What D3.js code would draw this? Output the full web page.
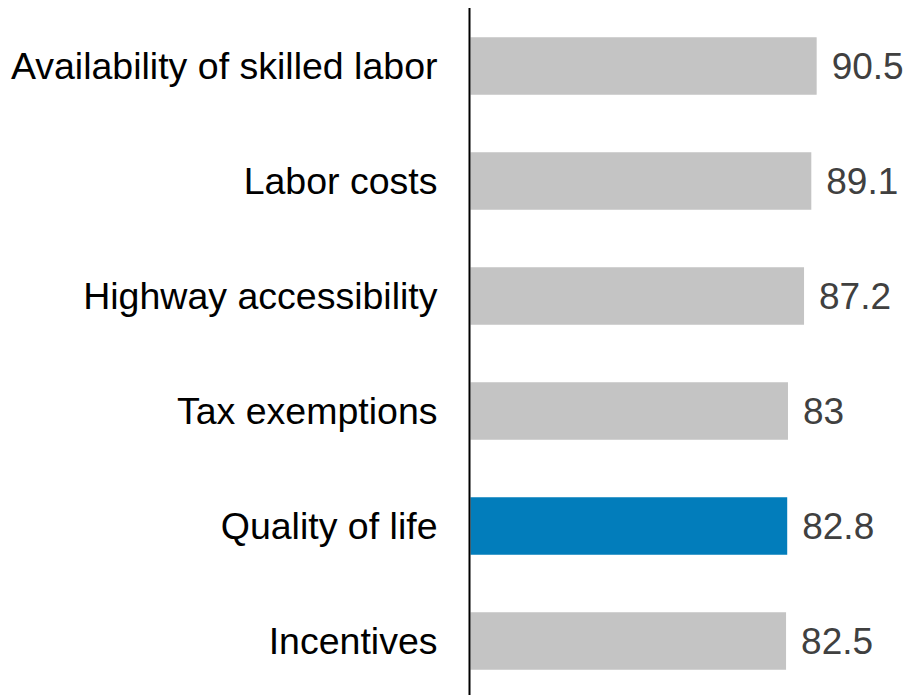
<!DOCTYPE html>
<html><head><meta charset="utf-8">
<script src="https://cdn.jsdelivr.net/npm/d3@7"></script>
<style>body{margin:0;background:#fff}svg{display:block}text{font-family:Arial,"Liberation Sans",sans-serif}</style>
</head><body><svg id="c" width="920" height="695"></svg>
<script>
const categories = ["Availability of skilled labor","Labor costs","Highway accessibility","Tax exemptions","Quality of life","Incentives"];
const values = [90.5, 89.1, 87.2, 83, 82.8, 82.5];
const highlight = ["Quality of life"];

const svg = d3.select("#c");
const x = d3.scaleLinear().domain([0, 100]).range([470.5, 853]);
const y = d3.scaleBand().domain(categories).range([8.5, 698.5]).paddingInner(0.5).paddingOuter(0.25);

const data = categories.map((c, i) => ({c, v: values[i]}));

svg.selectAll("rect.bar").data(data).enter().append("rect")
  .attr("class","bar")
  .attr("x", x(0))
  .attr("y", d => y(d.c))
  .attr("width", d => x(d.v) - x(0))
  .attr("height", y.bandwidth())
  .attr("fill", d => highlight.includes(d.c) ? "#027dbb" : "#c4c4c4");

svg.selectAll("text.val").data(data).enter().append("text")
  .attr("class","val")
  .attr("x", d => x(d.v) + 15)
  .attr("y", d => y(d.c) + y.bandwidth()/2)
  .attr("dy", "0.35em")
  .attr("font-size", 37)
  .attr("fill", "#404040")
  .text(d => d.v);

const yAxis = d3.axisLeft(y).tickSize(0).tickPadding(32);
const g = svg.append("g").attr("transform", `translate(${469.5},0)`).call(yAxis);
g.select(".domain").attr("stroke", "#000").attr("stroke-width", 2).attr("d", `M0,8V695`);
g.selectAll(".tick text").attr("font-size", 37.5).attr("fill", "#000").attr("font-family", "Arial, 'Liberation Sans', sans-serif").attr("dy","0.35em");
</script></body></html>
